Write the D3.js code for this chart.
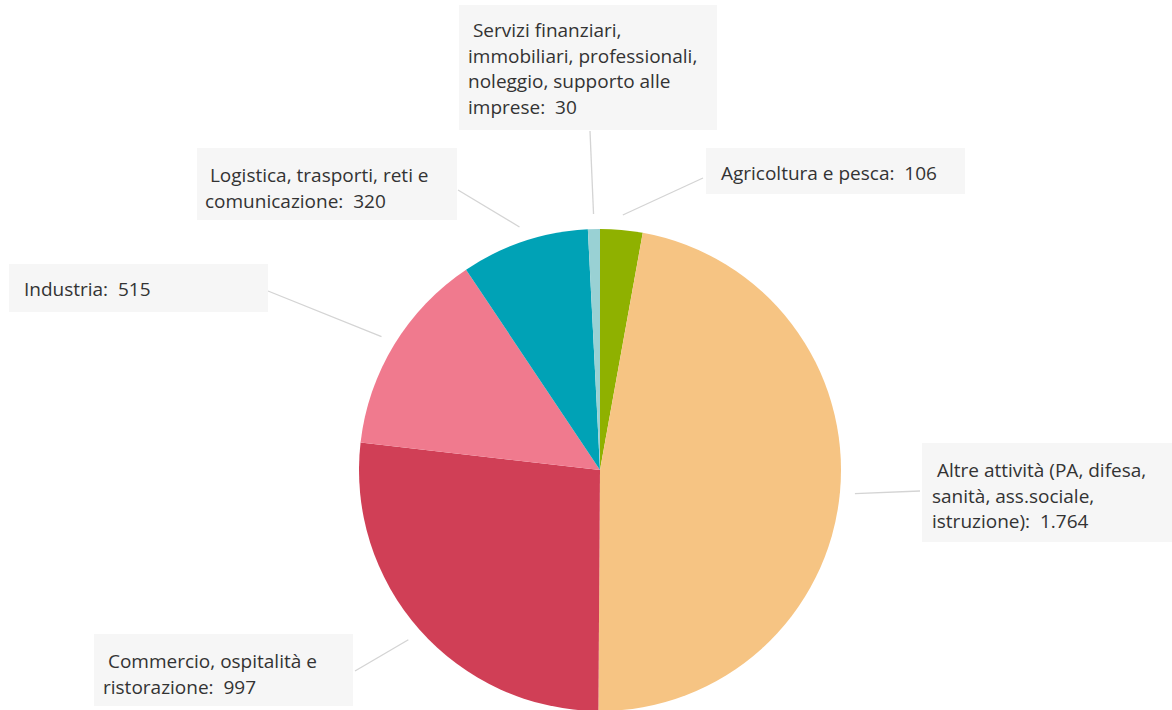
<!DOCTYPE html>
<html>
<head>
<meta charset="utf-8">
<script src="https://cdn.jsdelivr.net/npm/d3@7/dist/d3.min.js"></script>
<style>
  html, body { margin: 0; padding: 0; background: #ffffff; }
  svg { display: block; }
  .lbl text { font-family: "Open Sans", Lato, sans-serif; font-size: 19px; fill: #333333; white-space: pre; }
</style>
</head>
<body>
<svg id="chart" width="1172" height="710"></svg>
<script>
// Occupati per settore di attività (migliaia)
const categories = [
  "Agricoltura e pesca",
  "Altre attività (PA, difesa, sanità, ass.sociale, istruzione)",
  "Commercio, ospitalità e ristorazione",
  "Industria",
  "Logistica, trasporti, reti e comunicazione",
  "Servizi finanziari, immobiliari, professionali, noleggio, supporto alle imprese"
];
const values = [106, 1764, 997, 515, 320, 30];
const colors = ["#8fb100", "#f6c483", "#d03f56", "#f07a8e", "#00a2b6", "#99d1d4"];

// Label placement: box, text origin, words per line, leader end point
const labelLayout = [
  { box: [706, 148, 259, 46], tx: 716, ty: 180, words: [3],       end: [703, 178] },
  { box: [922, 443, 250, 99], tx: 932, ty: 477, words: [4, 2, 1], end: [920, 491] },
  { box: [94, 634, 259, 72],  tx: 103, ty: 668, words: [3, 1],    end: [355, 671] },
  { box: [9, 264, 259, 48],   tx: 19,  ty: 296, words: [1],       end: [268, 291] },
  { box: [197, 148, 260, 72], tx: 205, ty: 182, words: [4, 1],    end: [458, 190] },
  { box: [459, 5, 258, 125],  tx: 468, ty: 37,  words: [2, 2, 3, 1], end: [590, 131] }
];

const it = d3.formatLocale({ decimal: ",", thousands: ".", grouping: [3], currency: ["€", ""] });
const fmt = it.format(",");

const svg = d3.select("#chart");
const cx = 600, cy = 470, radius = 241;

const data = categories.map((c, i) => ({ name: c, value: values[i], color: colors[i], layout: labelLayout[i] }));

const pie = d3.pie().value(d => d.value).sort(null);
const arcs = pie(data);
const arc = d3.arc().innerRadius(0).outerRadius(radius);

const g = svg.append("g").attr("transform", `translate(${cx},${cy})`);
g.selectAll("path.slice")
  .data(arcs)
  .join("path")
  .attr("class", "slice")
  .attr("d", arc)
  .attr("fill", d => d.data.color);

// Leader lines from just outside the rim to the label boxes
const rimOffset = 15;
svg.append("g").selectAll("line")
  .data(arcs)
  .join("line")
  .attr("x1", d => {
    const a = (d.startAngle + d.endAngle) / 2;
    return cx + (radius + rimOffset) * Math.sin(a);
  })
  .attr("y1", d => {
    const a = (d.startAngle + d.endAngle) / 2;
    return cy - (radius + rimOffset) * Math.cos(a);
  })
  .attr("x2", d => d.data.layout.end[0])
  .attr("y2", d => d.data.layout.end[1])
  .attr("stroke", "#d4d4d4")
  .attr("stroke-width", 1.3);

// Label boxes
const lbl = svg.append("g").attr("class", "lbl").selectAll("g")
  .data(arcs)
  .join("g");

lbl.append("rect")
  .attr("x", d => d.data.layout.box[0])
  .attr("y", d => d.data.layout.box[1])
  .attr("width", d => d.data.layout.box[2])
  .attr("height", d => d.data.layout.box[3])
  .attr("fill", "#f6f6f6");

lbl.each(function(d) {
  const words = d.data.name.split(" ");
  const L = d.data.layout;
  const lines = [];
  let k = 0;
  L.words.forEach(n => { lines.push(words.slice(k, k + n).join(" ")); k += n; });
  lines[0] = " " + lines[0];
  lines[lines.length - 1] += ":  " + fmt(d.data.value);
  const t = d3.select(this).append("text").attr("x", L.tx).attr("y", L.ty);
  lines.forEach((s, i) => {
    t.append("tspan").attr("x", L.tx).attr("y", L.ty + i * 25.5).text(s);
  });
});
</script>
</body>
</html>
